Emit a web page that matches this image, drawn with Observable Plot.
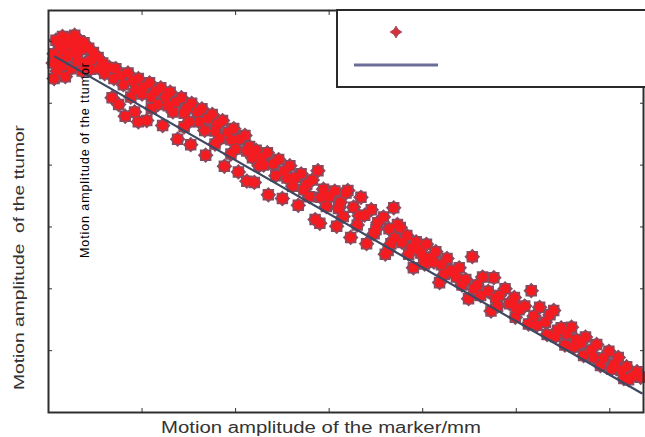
<!DOCTYPE html>
<html>
<head>
<meta charset="utf-8">
<script src="https://cdn.jsdelivr.net/npm/d3@7"></script>
<script src="https://cdn.jsdelivr.net/npm/@observablehq/plot@0.6"></script>
<style>
  html, body { margin: 0; padding: 0; background: #fff; }
  #wrap { position: relative; width: 645px; height: 437px; overflow: hidden; }
  #legend { position: absolute; left: 336px; top: 9px; width: 320px; height: 79px;
            border: 2px solid #2a2a2a; background: #fff; box-sizing: border-box; }
</style>
</head>
<body>
<div id="wrap"><div id="chart"></div><div id="legend"></div></div>
<script>
// ---- data (marker motion x, tumor motion y) ----
const clusterStart = [[0.8,60.2],[1.5,60.8],[2.2,60.5],[2.8,61.0],[3.3,60.1],[1.2,59.3],[2.0,59.6],[2.9,59.4],[3.8,59.8],[1.6,58.6],[2.6,58.4],[3.5,58.7],[4.3,58.9],[0.6,58.0],[4.8,58.2],[5.3,57.4],[0.5,56.5],[0.9,55.2],[1.4,56.0],[1.8,54.3],[2.4,55.6],[0.6,54.0],[3.1,56.8],[3.6,55.2],[2.0,57.5],[4.0,56.6],[4.5,55.5],[1.0,57.3],[3.0,57.9],[4.6,57.0],[5.5,55.6]];
const bandUpper1 = [[5.8,56.5],[6.5,55.8],[7.2,55.6],[7.8,54.5],[8.5,54.9],[9.0,53.6],[9.6,54.0],[10.2,52.6],[10.8,53.3],[11.4,51.9],[12.0,52.5],[12.5,51.0],[13.0,51.8],[13.6,50.2],[14.2,50.9],[14.8,49.3],[15.3,50.0],[15.9,48.6],[16.4,49.1],[17.0,47.5],[17.5,48.2],[18.0,46.6],[18.6,47.2],[19.2,45.3],[19.8,45.9],[20.4,44.2],[21.0,44.8],[21.5,43.0],[6.0,54.8],[8.0,53.0],[10.0,51.5],[11.7,49.8],[13.3,48.6],[15.0,47.0],[16.7,45.6],[18.3,44.3],[20.0,42.6],[21.8,41.2],[7.0,54.0],[9.3,52.2],[11.0,51.0],[12.8,49.6],[14.5,48.4],[16.1,47.0],[17.8,45.5],[19.5,44.1],[21.2,42.3]];
const bandLower1 = [[6.8,50.9],[7.5,49.8],[9.2,48.6],[10.5,47.2],[12.2,46.4],[13.8,44.2],[15.2,43.3],[16.8,41.6],[18.8,39.8],[20.3,38.9],[21.2,37.4],[8.2,47.9],[9.6,47.0],[8.8,51.0],[11.0,49.2],[14.5,46.2],[17.8,43.4],[19.5,41.8]];
const bandUpper2 = [[22.2,42.4],[22.8,41.2],[23.4,42.0],[24.0,40.2],[24.6,40.9],[25.2,39.0],[25.8,39.9],[26.4,38.0],[27.0,38.6],[27.6,36.9],[28.2,37.6],[28.8,39.1],[29.4,36.1],[30.0,34.9],[30.6,35.8],[31.2,34.0],[31.8,35.5],[32.0,35.9],[32.6,33.2],[33.4,34.8],[33.8,31.9],[34.5,32.8],[35.2,30.7],[35.8,31.6],[36.4,29.7],[36.9,33.1],[37.3,30.4],[23.0,40.0],[25.5,37.9],[27.3,36.0],[29.1,34.8],[31.0,33.0],[33.2,31.8],[35.0,29.6],[37.0,28.2]];
const bandLower2 = [[22.5,39.9],[24.3,38.3],[26.1,36.6],[27.9,34.9],[29.7,33.3],[31.5,31.7],[33.0,30.3],[34.8,28.9],[36.6,27.3],[22.0,37.2],[23.5,35.2],[25.0,34.6],[26.7,33.5],[28.5,31.2],[29.0,30.6],[30.8,30.1],[32.3,28.3],[34.0,27.3],[36.0,25.6],[36.3,26.2]];
const band3 = [[37.6,29.9],[37.8,27.5],[38.3,28.6],[38.8,26.6],[39.3,27.6],[39.8,25.8],[40.1,25.1],[40.4,27.2],[40.9,25.0],[41.4,26.0],[42.0,23.9],[42.6,24.9],[43.0,23.0],[43.3,22.6],[43.9,23.4],[44.6,21.5],[45.3,25.2],[45.8,20.6],[46.4,21.9],[47.0,19.6],[47.6,21.8],[48.2,18.9],[48.8,20.0],[49.3,17.6],[49.7,17.6],[49.8,18.6],[50.3,16.6],[38.5,25.6],[40.2,24.0],[42.3,22.3],[44.2,20.6],[46.2,18.9],[48.0,17.2],[49.9,15.4],[39.0,23.4],[41.8,21.0],[44.9,18.4],[47.3,16.4],[39.5,26.4],[41.2,24.3],[43.6,21.9],[45.5,20.0],[47.8,18.5],[50.0,16.9]];
const band4 = [[50.9,17.2],[51.6,19.7],[51.9,15.6],[52.5,17.0],[53.1,14.6],[53.6,15.8],[54.0,16.5],[54.4,13.3],[54.8,13.7],[55.4,12.7],[55.9,13.8],[56.4,11.8],[56.9,11.2],[57.4,12.2],[58.0,10.1],[58.6,11.0],[59.3,8.8],[59.9,9.9],[60.5,7.8],[60.9,8.9],[61.2,6.8],[61.8,7.4],[62.4,5.8],[62.9,6.6],[63.3,5.7],[51.3,14.3],[53.3,12.6],[55.2,10.9],[57.2,9.2],[59.0,7.6],[61.5,5.5],[52.2,14.1],[54.2,12.3],[56.2,10.6],[58.3,8.9],[60.2,7.0],[62.0,5.3]];
// fitted line end points
const fitX = [0.7, 63.4];
const fitY = [57.54, 3.12];
// axis ticks (no labels shown)
const xTicks = [10, 20, 30, 40, 50, 60];
const yTicks = [10, 20, 30, 40, 50, 60];
const xLabel = "Motion amplitude of the marker/mm";
const yLabel = "Motion amplitude\u00a0 of the ttumor";
const innerLabel = "Motion amplitude of the ttumor";

const points = [...clusterStart, ...bandUpper1, ...bandLower1, ...bandUpper2, ...bandLower2, ...band3, ...band4]
  .map(([x, y]) => ({x, y}));
const fit = fitX.map((x, i) => ({x, y: fitY[i]}));

const edge = "#874c60", red = "#f41c20";
const noText = () => "";
const plot = Plot.plot({
  width: 645, height: 437,
  marginLeft: 48, marginRight: 2, marginTop: 10, marginBottom: 25,
  style: {fontFamily: "'Liberation Sans', Arial, sans-serif", background: "#fff"},
  x: {domain: [0, 63.6]},
  y: {domain: [0, 65]},
  marks: [
    // marker outlines (square + diamond = 8-point star), then fills on top
    Plot.dot(points, {x: "x", y: "y", symbol: "square", r: 4.8, fill: edge, stroke: edge, strokeWidth: 3}),
    Plot.dot(points, {x: "x", y: "y", symbol: "diamond2", r: 5.2, fill: edge, stroke: edge, strokeWidth: 3}),
    Plot.dot(points, {x: "x", y: "y", symbol: "square", r: 4.6, fill: red}),
    Plot.dot(points, {x: "x", y: "y", symbol: "diamond2", r: 5.0, fill: red}),
    Plot.line(fit, {x: "x", y: "y", stroke: "#3e4860", strokeWidth: 2.2}),
    Plot.axisX(xTicks, {anchor: "bottom", tickSize: 4, dy: -4, tickFormat: noText, label: null, stroke: "#333"}),
    Plot.axisX(xTicks, {anchor: "top", tickSize: 4, dy: 4, tickFormat: noText, label: null, stroke: "#333"}),
    Plot.axisY(yTicks, {anchor: "left", tickSize: 4, dx: 4, tickFormat: noText, label: null, stroke: "#333"}),
    Plot.axisY(yTicks, {anchor: "right", tickSize: 4, dx: -4, tickFormat: noText, label: null, stroke: "#333"}),
    Plot.frame({stroke: "#2e2e2e", strokeWidth: 2}),
    Plot.text([xLabel], {frameAnchor: "bottom", text: d => d, textAnchor: "middle", dx: -25, dy: 20, lineAnchor: "bottom", fontSize: 16, fill: "#333"}),
    Plot.text([yLabel], {frameAnchor: "left", text: d => d, textAnchor: "middle", dx: -25, dy: 46, rotate: -90, lineAnchor: "bottom", fontSize: 15.5, fill: "#333"}),
    Plot.text([innerLabel], {frameAnchor: "left", text: d => d, textAnchor: "middle", dx: 40, dy: -51, rotate: -90, lineAnchor: "bottom", fontSize: 12.5, fill: "#000"})
  ]
});
document.getElementById("chart").appendChild(plot);
const lengths = {[xLabel]: [320, "spacingAndGlyphs"], [yLabel]: [265, "spacingAndGlyphs"], [innerLabel]: [195, "spacing"]};
plot.querySelectorAll("text").forEach(t => {
  const L = lengths[t.textContent];
  if (L) { t.setAttribute("textLength", L[0]); t.setAttribute("lengthAdjust", L[1]); }
});

// legend (entries' texts are absent in the reference)
const lg = d3.select("#legend").append("svg").attr("width", 320).attr("height", 75);
const mk = lg.append("g").attr("transform", "translate(58,21)");
mk.append("path").attr("d", d3.symbol(d3.symbolDiamond, 40)()).attr("fill", "#d83038").attr("stroke", "#b04858").attr("stroke-width", 1);
mk.append("path").attr("d", d3.symbol(d3.symbolDiamond, 40)()).attr("transform", "rotate(90)").attr("fill", "#d83038").attr("stroke", "#b04858").attr("stroke-width", 1);
lg.append("line").attr("x1", 16).attr("x2", 100).attr("y1", 54).attr("y2", 54)
  .attr("stroke", "#6c6e98").attr("stroke-width", 3);
</script>
</body>
</html>
